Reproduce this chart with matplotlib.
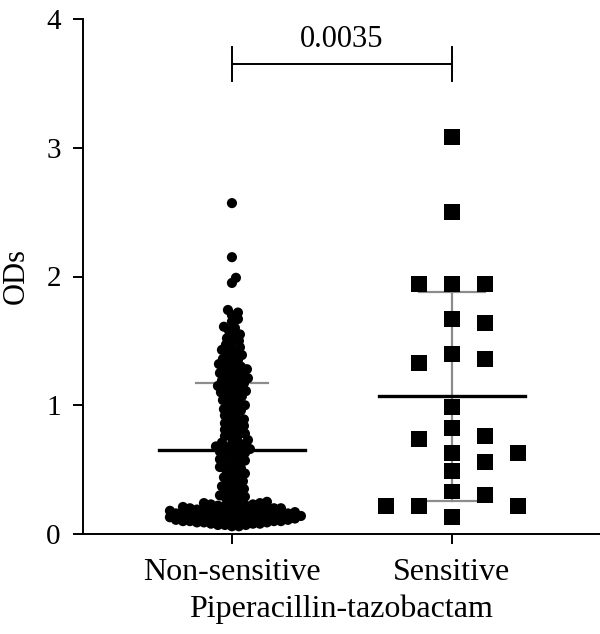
import numpy as np
import matplotlib
matplotlib.use('Agg')
from matplotlib import pyplot as plt

plt.rcParams['font.family'] = ['Liberation Serif', 'DejaVu Serif']

# categories on the x axis
groups = ['Non-sensitive', 'Sensitive']

# ODs, group 1 (round dots)
non_sensitive = [
    0.06, 0.06, 0.07, 0.07, 0.07, 0.08, 0.08, 0.08, 0.09, 0.09, 0.09,
    0.10, 0.10, 0.10, 0.10, 0.11, 0.11, 0.11, 0.11, 0.12, 0.12, 0.12, 0.12,
    0.13, 0.13, 0.13, 0.13, 0.14, 0.14, 0.14, 0.14, 0.15, 0.15, 0.15, 0.15,
    0.16, 0.16, 0.16, 0.16, 0.17, 0.17, 0.17, 0.17, 0.18, 0.18, 0.18, 0.18,
    0.19, 0.19, 0.19, 0.20, 0.20, 0.20, 0.21, 0.21, 0.21, 0.22, 0.22, 0.22,
    0.23, 0.23, 0.24, 0.24, 0.25,
    0.26, 0.27, 0.28, 0.29, 0.30, 0.31, 0.32, 0.33, 0.35, 0.36,
    0.37, 0.38, 0.40, 0.41, 0.42, 0.44, 0.45, 0.46, 0.47, 0.49, 0.50, 0.51,
    0.52, 0.54, 0.55, 0.56, 0.57, 0.58, 0.60, 0.61, 0.62, 0.63, 0.64, 0.65,
    0.66, 0.66, 0.67, 0.68, 0.69, 0.70, 0.71, 0.72, 0.73, 0.75, 0.76, 0.77,
    0.78, 0.80, 0.81, 0.82, 0.84, 0.85, 0.86, 0.88, 0.89, 0.90, 0.92, 0.93,
    0.95, 0.96, 0.97, 0.99, 1.00, 1.01, 1.03, 1.04, 1.05, 1.07, 1.08, 1.09,
    1.10, 1.11, 1.12, 1.13, 1.14, 1.15, 1.16, 1.17, 1.18, 1.19, 1.20, 1.21,
    1.22, 1.23, 1.24, 1.25, 1.26, 1.27, 1.28, 1.29, 1.30, 1.31, 1.32, 1.33,
    1.35, 1.36, 1.37, 1.39, 1.40, 1.41, 1.43, 1.44, 1.45, 1.47, 1.49, 1.50,
    1.52, 1.54, 1.55, 1.58, 1.60, 1.61, 1.65, 1.67, 1.70, 1.72, 1.74,
    1.95, 1.99, 2.15, 2.57,
]

# group 2 (squares)
sensitive = [
    3.08, 2.50, 1.94, 1.94, 1.94, 1.67, 1.64, 1.40, 1.36, 1.33, 0.99, 0.82,
    0.76, 0.74, 0.63, 0.63, 0.56, 0.49, 0.33, 0.30, 0.22, 0.22, 0.22, 0.13,
]

# mean and SD lines as drawn in the figure
means = [0.65, 1.07]
sds = [0.52, 0.81]

p_value = '0.0035'
bracket_y = 3.65

# pixel geometry (for the swarm layout)
PX_X = 220.0     # px per category unit
PX_Y = 128.75    # px per OD unit


def swarm(values, mindist, step, order_desc=False):
    """greedy beeswarm: returns x offsets (in data units)"""
    vals = np.asarray(values, dtype=float)
    idx = np.argsort(-vals) if order_desc else np.argsort(vals)
    placed = []
    offs = np.zeros(len(vals))
    for i in idx:
        y = vals[i] * PX_Y
        k = 0
        while True:
            # 0, +1, -1, +2, -2 ...
            m = (k + 1) // 2 * (1 if k % 2 == 1 else -1)
            x = m * step
            ok = True
            for (px, py) in placed:
                if (px - x) ** 2 + (py - y) ** 2 < mindist ** 2:
                    ok = False
                    break
            if ok:
                break
            k += 1
        placed.append((x, y))
        offs[i] = x / PX_X
    return offs


fig = plt.figure(figsize=(6, 6.34), dpi=100)
ax = fig.add_axes([83 / 600, 100 / 634, 517 / 600, 515 / 634])

xs = [0, 1]

# SD bars (grey, under the markers)
for x, m, s, half in zip(xs, means, sds, [0.165, 0.15]):
    ax.plot([x, x], [max(m - s, 0), m + s], color='#8c8c8c', lw=1.6, zorder=1)
    ax.plot([x - half, x + half], [m + s, m + s], color='#8c8c8c', lw=1.6, zorder=1)
    ax.plot([x - half, x + half], [m - s, m - s], color='#8c8c8c', lw=1.6, zorder=1)
    # mean line
    ax.plot([x - 0.33, x + 0.33], [m, m], color='black', lw=2.4, zorder=1)

ns_off = swarm(non_sensitive, mindist=6.2, step=1.0)
ax.scatter(xs[0] + ns_off, non_sensitive, s=7.3 ** 2, marker='o',
           color='black', edgecolors='none', zorder=2)

s_off = swarm(sensitive, mindist=17, step=33, order_desc=True)
ax.scatter(xs[1] + s_off, sensitive, s=11.5 ** 2, marker='s',
           color='black', edgecolors='none', zorder=2)

# significance bracket
ax.plot([xs[0], xs[1]], [bracket_y, bracket_y], color='black', lw=1.4)
for x in xs:
    ax.plot([x, x], [bracket_y - 0.135, bracket_y + 0.135], color='black', lw=1.4)
ax.text(0.5 * (xs[0] + xs[1]), bracket_y + 0.08, p_value, ha='center', va='bottom',
        fontsize=22)

ax.set_xlim(-0.677, 1.673)
ax.set_ylim(0, 4)
ax.set_xticks(xs)
ax.set_xticklabels(groups, fontsize=23)
ax.set_yticks([0, 1, 2, 3, 4])
ax.set_yticklabels(['0', '1', '2', '3', '4'], fontsize=21)
ax.tick_params(axis='both', length=7, width=1.4, color='black')
ax.tick_params(axis='y', pad=9)
ax.tick_params(axis='x', pad=10)
ax.spines['top'].set_visible(False)
ax.spines['right'].set_visible(False)
ax.spines['left'].set_linewidth(1.4)
ax.spines['bottom'].set_linewidth(1.4)
for sp in ax.spines.values():
    sp.set_clip_on(False)

fig.text(16 / 600, 1 - 276 / 634, 'ODs', rotation=90, ha='center', va='center',
         fontsize=22)
ax.set_xlabel('Piperacillin-tazobactam', fontsize=23, labelpad=6)

fig.savefig('out.png', dpi=100)
